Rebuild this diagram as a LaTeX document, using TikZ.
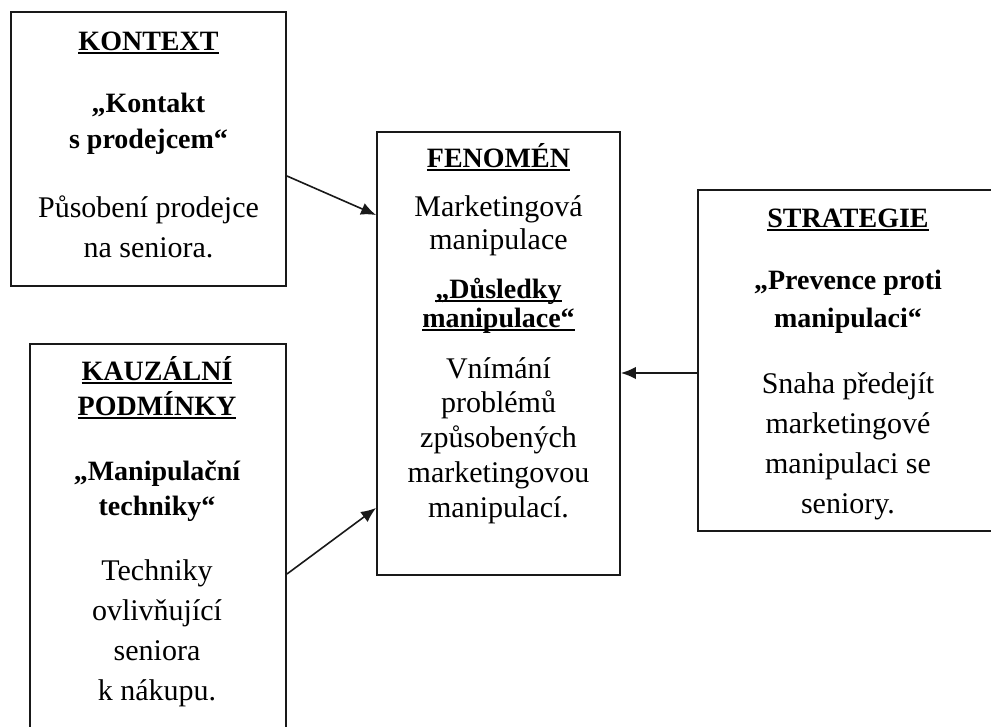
\documentclass[tikz,border=0pt]{standalone}
\usepackage{fontspec}
\setmainfont{Liberation Serif}
\usetikzlibrary{arrows.meta}

% underline drawn at a fixed depth below the baseline
\newcommand\ulfix[1]{\setbox0\hbox{#1}\rlap{\vrule height -2.2pt depth 4.2pt width \wd0}\box0}

\tikzset{
  frame/.style={draw=black!90, line width=1.9pt, fill=none, inner sep=0pt},
  head/.style={anchor=base, inner sep=0pt, font=\fontsize{28}{32}\selectfont\bfseries},
  body/.style={anchor=base, inner sep=0pt, font=\fontsize{30}{34}\selectfont},
  link/.style={line width=1.6pt, draw=black!90, -{Latex[length=15pt,width=12.5pt]}}
}

\begin{document}
\begin{tikzpicture}[x=1pt,y=-1pt]
\useasboundingbox (0,0) rectangle (991,726);
\clip (0,0) rectangle (991,726);
\fill[white] (0,0) rectangle (991,726);

% frames
\node[frame, minimum width=275pt, minimum height=274pt] (kontext) at (148.5,149) {};
\node[frame, minimum width=256pt, minimum height=416pt] (kauzal) at (158,552) {};
\node[frame, minimum width=243pt, minimum height=443pt] (fenomen) at (498.5,353.5) {};
\node[frame, minimum width=300pt, minimum height=341pt] (strat) at (848,360.5) {};

% KONTEXT
\node[head] (k1) at (148.5,50) {\ulfix{KONTEXT}};
\node[head] (k2) at (148.5,112) {„Kontakt};
\node[head] (k3) at (148.5,148) {s prodejcem“};
\node[body] (k4) at (148.5,217) {Působení prodejce};
\node[body] (k5) at (148.5,257) {na seniora.};

% KAUZÁLNÍ PODMÍNKY
\node[head] (c1) at (157,380) {\ulfix{KAUZÁLNÍ}};
\node[head] (c2) at (157,415) {\ulfix{PODMÍNKY}};
\node[head] (c3) at (157,480) {„Manipulační};
\node[head] (c4) at (157,515) {techniky“};
\node[body] (c5) at (157,580) {Techniky};
\node[body] (c6) at (157,620) {ovlivňující};
\node[body] (c7) at (157,660) {seniora};
\node[body] (c8) at (157,700) {k nákupu.};

% FENOMÉN
\node[head] (f1) at (498.5,167) {\ulfix{FENOMÉN}};
\node[body] (f2) at (498.5,216) {Marketingová};
\node[body] (f3) at (498.5,249) {manipulace};
\node[head] (f4) at (498.5,298) {\ulfix{„Důsledky}};
\node[head] (f5) at (498.5,327) {\ulfix{manipulace“}};
\node[body] (f6) at (498.5,378) {Vnímání};
\node[body] (f7) at (498.5,412) {problémů};
\node[body] (f8) at (498.5,447) {způsobených};
\node[body] (f9) at (498.5,482) {marketingovou};
\node[body] (f10) at (498.5,517) {manipulací.};

% STRATEGIE
\node[head] (s1) at (848,227) {\ulfix{STRATEGIE}};
\node[head] (s2) at (848,289) {„Prevence proti};
\node[head] (s3) at (848,327) {manipulaci“};
\node[body] (s4) at (848,393) {Snaha předejít};
\node[body] (s5) at (848,433) {marketingové};
\node[body] (s6) at (848,473) {manipulaci se};
\node[body] (s7) at (848,513) {seniory.};

% connectors
\draw[link] ([yshift=-27pt]kontext.east) -- ([yshift=138.5pt]fenomen.west);
\draw[link] ([yshift=-22pt]kauzal.east) -- ([yshift=-154.5pt]fenomen.west);
\draw[link] ([yshift=-12.5pt]strat.west) -- ([yshift=-19.5pt]fenomen.east);
\end{tikzpicture}
\end{document}
